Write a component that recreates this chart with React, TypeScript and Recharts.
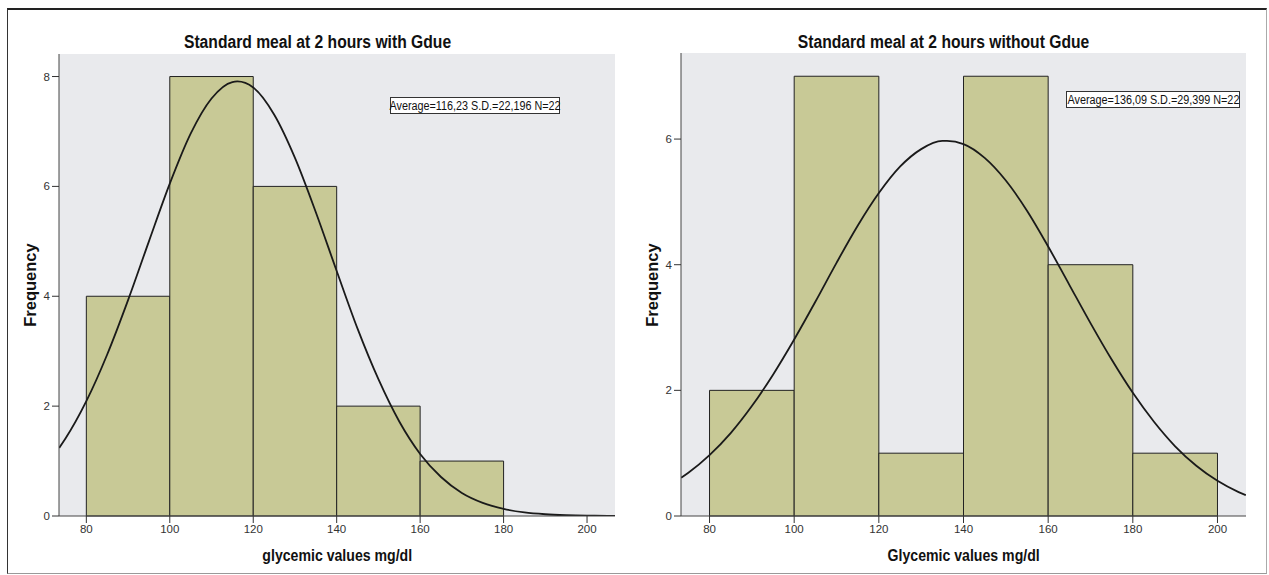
import React from "react"
import {
  ComposedChart,
  Line,
  XAxis,
  YAxis,
  CartesianGrid,
  ReferenceArea,
} from "recharts"

// histogram bins (left edge of each bin) and counts
const binStartsWith = [80, 100, 120, 140, 160]
const countsWith = [4, 8, 6, 2, 1]
const binStartsWithout = [80, 100, 120, 140, 160, 180]
const countsWithout = [2, 7, 1, 7, 4, 1]
const binWidth = 20

// normal curve
const curveXWith = [73.5, 75, 80, 85, 90, 95, 100, 105, 110, 115, 116.2, 120, 125, 130, 135, 140, 145, 150, 155, 160, 165, 170, 175, 180, 185, 190, 195, 200, 205, 206.7]
const curveYWith = [1.24, 1.41, 2.09, 2.94, 3.93, 5.0, 6.05, 6.96, 7.6, 7.9, 7.91, 7.8, 7.31, 6.52, 5.53, 4.46, 3.41, 2.49, 1.72, 1.13, 0.71, 0.42, 0.24, 0.13, 0.065, 0.032, 0.015, 0.006, 0.003, 0.002]
const curveXWithout = [73.3, 75, 80, 85, 90, 95, 100, 105, 110, 115, 120, 125, 130, 135, 136.1, 140, 145, 150, 155, 160, 165, 170, 175, 180, 185, 190, 195, 200, 205, 206.7]
const curveYWithout = [0.61, 0.69, 0.97, 1.32, 1.75, 2.25, 2.81, 3.41, 4.03, 4.62, 5.14, 5.56, 5.84, 5.97, 5.97, 5.92, 5.7, 5.34, 4.86, 4.29, 3.68, 3.07, 2.49, 1.96, 1.5, 1.11, 0.8, 0.56, 0.38, 0.33]

const xTicks = [80, 100, 120, 140, 160, 180, 200]
const yTicksWith = [0, 2, 4, 6, 8]
const yTicksWithout = [0, 2, 4, 6]

const titles = ["Standard meal at 2 hours with Gdue", "Standard meal at 2 hours without Gdue"]
const xLabels = ["glycemic values mg/dl", "Glycemic values mg/dl"]
const yLabel = "Frequency"
const stats = ["Average=116,23 S.D.=22,196 N=22", "Average=136,09 S.D.=29,399 N=22"]

const barFill = "#c8c996"
const plotBg = "#e9eaed"
const sans = "'Liberation Sans', Arial, sans-serif"
const tickStyle = { fontSize: 11.5, fill: "#333", fontFamily: sans }

function Histogram(props: {
  starts: number[]
  counts: number[]
  cx: number[]
  cy: number[]
  xDomain: number[]
  yMax: number
  yTicks: number[]
  width: number
  margin: any
  yAxisWidth: number
}) {
  const curve = props.cx.map((x, i) => ({ x, y: props.cy[i] }))
  return (
    <ComposedChart width={props.width} height={575} data={curve} margin={props.margin}>
      <CartesianGrid fill={plotBg} horizontal={false} vertical={false} />
      <XAxis
        dataKey="x"
        type="number"
        domain={props.xDomain}
        ticks={xTicks}
        allowDataOverflow
        height={31}
        tickSize={7}
        tickLine={{ stroke: "#333" }}
        axisLine={{ stroke: "#444" }}
        tick={tickStyle}
      />
      <XAxis xAxisId="top" orientation="top" type="number" domain={props.xDomain} height={0} tick={false} tickLine={false} axisLine={{ stroke: "#444" }} />
      <YAxis
        type="number"
        domain={[0, props.yMax]}
        ticks={props.yTicks}
        allowDataOverflow
        width={props.yAxisWidth}
        tickSize={7}
        tickLine={{ stroke: "#333" }}
        axisLine={{ stroke: "#444" }}
        tick={tickStyle}
      />
      <YAxis yAxisId="right" orientation="right" domain={[0, props.yMax]} width={0} tick={false} tickLine={false} axisLine={{ stroke: "#444" }} />
      {props.starts.map((s, i) => (
        <ReferenceArea
          key={i}
          x1={s}
          x2={s + binWidth}
          y1={0}
          y2={props.counts[i]}
          fill={barFill}
          fillOpacity={1}
          stroke="#222"
          strokeWidth={1}
          strokeOpacity={1}
        />
      ))}
      <Line
        dataKey="y"
        type="monotone"
        dot={false}
        stroke="#1a1a1a"
        strokeWidth={1.8}
        isAnimationActive={false}
      />
    </ComposedChart>
  )
}

const abs = (o: any) => ({ position: "absolute" as const, display: "flex", justifyContent: "center", alignItems: "center", ...o })

// text squeezed horizontally to mimic the condensed font of the original
function Narrow({ text, scale }: { text: string; scale: number }) {
  return <span style={{ display: "inline-block", flex: "none", transform: `scaleX(${scale})`, whiteSpace: "nowrap" }}>{text}</span>
}

export default function App() {
  return (
    <div style={abs({ left: 0, top: 0, width: 1269, height: 575, background: "#fff", overflow: "hidden", display: "block" })}>
      <div
        style={abs({
          left: 7,
          top: 8,
          width: 1258,
          height: 563,
          borderTop: "2px solid #222",
          borderLeft: "1px solid #333",
          borderRight: "1px solid #aaa",
          borderBottom: "1px solid #999",
        })}
      />
      <div style={abs({ left: 0, top: 0, display: "block" })}>
        <Histogram
          starts={binStartsWith}
          counts={countsWith}
          cx={curveXWith}
          cy={curveYWith}
          xDomain={[73.45, 206.7]}
          yMax={8.41}
          yTicks={yTicksWith}
          width={630}
          margin={{ top: 54, right: 15, bottom: 28, left: 0 }}
          yAxisWidth={59}
        />
      </div>
      <div style={abs({ left: 630, top: 0, display: "block" })}>
        <Histogram
          starts={binStartsWithout}
          counts={countsWithout}
          cx={curveXWithout}
          cy={curveYWithout}
          xDomain={[73.26, 206.74]}
          yMax={7.37}
          yTicks={yTicksWithout}
          width={639}
          margin={{ top: 53, right: 23, bottom: 28, left: 0 }}
          yAxisWidth={51}
        />
      </div>
      {/* titles */}
      <div style={abs({ left: 0, width: 635, top: 31, height: 22, fontFamily: sans, fontWeight: "bold", fontSize: 18, color: "#111" })}>
        <Narrow text={titles[0]} scale={0.87} />
      </div>
      <div style={abs({ left: 630, width: 627, top: 31, height: 22, fontFamily: sans, fontWeight: "bold", fontSize: 18, color: "#111" })}>
        <Narrow text={titles[1]} scale={0.87} />
      </div>
      {/* x labels */}
      <div style={abs({ left: 59, width: 556, top: 546, height: 20, fontFamily: sans, fontWeight: "bold", fontSize: 17, color: "#111" })}>
        <Narrow text={xLabels[0]} scale={0.83} />
      </div>
      <div style={abs({ left: 681, width: 565, top: 546, height: 20, fontFamily: sans, fontWeight: "bold", fontSize: 17, color: "#111" })}>
        <Narrow text={xLabels[1]} scale={0.83} />
      </div>
      {/* y labels */}
      {[30, 652].map((x, i) => (
        <div
          key={i}
          style={abs({
            left: x - 50,
            top: 275,
            width: 100,
            height: 20,
            transform: "rotate(-90deg)",
            fontFamily: sans,
            fontWeight: "bold",
            fontSize: 16.5,
            color: "#111",
          })}
        >
          {yLabel}
        </div>
      ))}
      {/* stats boxes */}
      <div style={abs({ left: 390, top: 97, width: 168, height: 15, border: "1px solid #333", background: "#fff", fontFamily: sans, fontSize: 12, color: "#111" })}>
        <Narrow text={stats[0]} scale={0.9} />
      </div>
      <div style={abs({ left: 1066, top: 91, width: 172, height: 15, border: "1px solid #333", background: "#fff", fontFamily: sans, fontSize: 12, color: "#111" })}>
        <Narrow text={stats[1]} scale={0.9} />
      </div>
    </div>
  )
}
